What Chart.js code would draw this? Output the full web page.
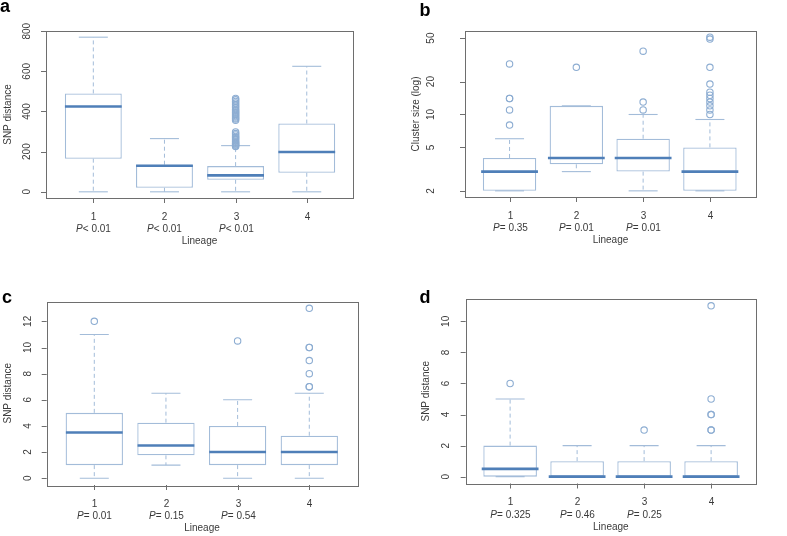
<!DOCTYPE html>
<html><head><meta charset="utf-8">
<script src="https://cdn.jsdelivr.net/npm/chart.js@4.4.0/dist/chart.umd.min.js"></script>
<style>
html,body{margin:0;padding:0;background:#fff;}
#wrap{position:relative;width:787px;height:536px;overflow:hidden;background:#fff;}
canvas{position:absolute;}
</style></head><body>
<div id="wrap">
<canvas id="ca" width="393" height="268" style="left:0px;top:0px;width:393px;height:268px"></canvas>
<canvas id="cb" width="394" height="268" style="left:393px;top:0px;width:394px;height:268px"></canvas>
<canvas id="cc" width="393" height="268" style="left:0px;top:268px;width:393px;height:268px"></canvas>
<canvas id="cd" width="394" height="268" style="left:393px;top:268px;width:394px;height:268px"></canvas>
</div>
<script>
// ---------- data ----------
const lineages = [1, 2, 3, 4];

// panel a : SNP distance
const aMin = [0, 0, 0, 0];
const aQ1  = [165, 20, 60, 95];
const aMed = [425, 130, 82, 198];
const aQ3  = [490, 135, 128, 340];
const aMax = [770, 265, 230, 625];
const aOut = [[], [], [226, 230, 234, 238, 242, 247, 252, 258, 264, 270, 276, 283, 290, 298,
                       356, 362, 368, 374, 380, 386, 392, 398, 404, 410, 418, 426, 434, 442, 450, 458, 465], []];
const aP = ['< 0.01', '< 0.01', '< 0.01', null];
const aTicks = [0, 200, 400, 600, 800];

// panel b : cluster size (log)
const bMin = [2, 3, 2, 2];
const bQ1  = [2, 3.5, 3, 2];
const bMed = [3, 4, 4, 3];
const bQ3  = [4, 12, 6, 5];
const bMax = [6, 12, 10, 9];
const bOut = [[8, 11, 14, 14, 29], [27], [11, 13, 38], [10, 11, 12, 13, 14, 15, 16, 19, 27, 49, 51]];
const bP = ['= 0.35', '= 0.01', '= 0.01', null];
const bTicks = [2, 5, 10, 20, 50];

// panel c : SNP distance
const cMin = [0, 1, 0, 0];
const cQ1  = [1, 1.75, 1, 1];
const cMed = [3.5, 2.5, 2, 2];
const cQ3  = [5, 4.25, 4, 3.25];
const cMax = [11, 6.5, 6, 6.5];
const cOut = [[12], [], [10.5], [7, 7, 8, 9, 10, 10, 13]];
const cP = ['= 0.01', '= 0.15', '= 0.54', null];
const cTicks = [0, 2, 4, 6, 8, 10, 12];

// panel d : SNP distance
const dMin = [0, 0, 0, 0];
const dQ1  = [0, 0, 0, 0];
const dMed = [0.5, 0, 0, 0];
const dQ3  = [2, 1, 1, 1];
const dMax = [5, 2, 2, 2];
const dOut = [[6], [], [3], [3, 3, 4, 4, 5, 11]];
const dP = ['= 0.325', '= 0.46', '= 0.25', null];
const dTicks = [0, 2, 4, 6, 8, 10];

// ---------- styles ----------
const BOX = '#a3bcd9';
const MED = '#4f7fb8';
const OUT = '#8dadd2';
const FRAME = '#6e6e6e';
const TXT = '#3a3a3a';
const FONT = '"Liberation Sans", Arial, sans-serif';

function boxDatasets(mn, q1, md, q3, mx, out) {
  const whisk = [];
  lineages.forEach((x, i) => {
    whisk.push({x, y: q3[i]}, {x, y: mx[i]}, {x, y: null});
    whisk.push({x, y: q1[i]}, {x, y: mn[i]}, {x, y: null});
  });
  const caps = [];
  lineages.forEach((x, i) => { caps.push({x, y: mn[i]}, {x, y: mx[i]}); });
  const outs = [];
  lineages.forEach((x, i) => { out[i].forEach(v => outs.push({x, y: v})); });
  return [
    {type: 'line', data: whisk, borderColor: BOX, borderWidth: 1, borderDash: [4, 3],
     pointRadius: 0, spanGaps: false, fill: false, order: 4},
    {type: 'bar', data: lineages.map((x, i) => ({x, y: [q1[i], q3[i]]})),
     backgroundColor: '#ffffff', borderColor: BOX, borderWidth: 1.3, borderSkipped: false,
     categoryPercentage: 0.8, barPercentage: 1, order: 3},
    {type: 'scatter', data: caps, pointStyle: 'line', pointRadius: 14.5, borderColor: BOX,
     borderWidth: 1.1, order: 2},
    {type: 'scatter', data: lineages.map((x, i) => ({x, y: md[i]})), pointStyle: 'line',
     pointRadius: 28.4, borderColor: MED, borderWidth: 2.6, order: 1},
    {type: 'scatter', data: outs, pointStyle: 'circle', pointRadius: 3.2,
     borderColor: OUT, backgroundColor: 'rgba(255,255,255,0)', borderWidth: 1.1, order: 0}
  ];
}

const rAxes = {
  id: 'rAxes',
  afterDraw(chart, args, o) {
    const ctx = chart.ctx, ca = chart.chartArea, xs = chart.scales.x, ys = chart.scales.y;
    ctx.save();
    ctx.strokeStyle = FRAME; ctx.lineWidth = 1;
    ctx.strokeRect(Math.round(ca.left) + 0.5, Math.round(ca.top) + 0.5,
                   Math.round(ca.right - ca.left), Math.round(ca.bottom - ca.top));
    ctx.fillStyle = TXT;
    ctx.font = '10px ' + FONT;
    // y ticks + rotated labels
    o.yTicks.forEach(v => {
      const y = Math.round(ys.getPixelForValue(v)) + 0.5;
      ctx.beginPath(); ctx.moveTo(ca.left - 5, y); ctx.lineTo(ca.left, y); ctx.stroke();
      ctx.save();
      ctx.translate(ca.left - o.yLabOff, ys.getPixelForValue(v));
      ctx.rotate(-Math.PI / 2);
      ctx.textAlign = 'center'; ctx.textBaseline = 'middle';
      ctx.fillText(String(v), 0, 0);
      ctx.restore();
    });
    // y title
    ctx.save();
    ctx.translate(ca.left - o.yTitleOff, (ca.top + ca.bottom) / 2);
    ctx.rotate(-Math.PI / 2);
    ctx.textAlign = 'center'; ctx.textBaseline = 'middle';
    ctx.fillText(o.yTitle, 0, 0);
    ctx.restore();
    // x ticks, labels, P values
    lineages.forEach((v, i) => {
      const x = Math.round(xs.getPixelForValue(v)) + 0.5;
      ctx.beginPath(); ctx.moveTo(x, ca.bottom); ctx.lineTo(x, ca.bottom + 5); ctx.stroke();
      ctx.textAlign = 'center'; ctx.textBaseline = 'middle';
      ctx.font = '10px ' + FONT;
      ctx.fillText(String(v), x, ca.bottom + 19);
      const p = o.pvals[i];
      if (p) {
        ctx.font = 'italic 10px ' + FONT;
        const w1 = ctx.measureText('P').width;
        ctx.font = '10px ' + FONT;
        const w2 = ctx.measureText(p).width;
        const x0 = x - (w1 + w2) / 2;
        ctx.textAlign = 'left';
        ctx.font = 'italic 10px ' + FONT;
        ctx.fillText('P', x0, ca.bottom + 31.5);
        ctx.font = '10px ' + FONT;
        ctx.fillText(p, x0 + w1, ca.bottom + 31.5);
      }
    });
    ctx.textAlign = 'center'; ctx.textBaseline = 'middle';
    ctx.font = '10px ' + FONT;
    ctx.fillText('Lineage', (ca.left + ca.right) / 2, ca.bottom + 43.5);
    // panel letter
    ctx.fillStyle = '#000';
    ctx.font = 'bold 18px ' + FONT;
    ctx.textAlign = 'center'; ctx.textBaseline = 'middle';
    ctx.fillText(o.letter, o.letterX, o.letterY);
    ctx.restore();
  }
};

function makePanel(id, stats, yType, yMin, yMax, xMin, xMax, pad, ax) {
  const yTicks = ax.yTicks;
  new Chart(document.getElementById(id), {
    type: 'bar',
    data: {datasets: boxDatasets.apply(null, stats)},
    options: {
      responsive: false, animation: false, devicePixelRatio: 1, events: [],
      layout: {padding: pad},
      plugins: {legend: {display: false}, tooltip: {enabled: false}, rAxes: ax},
      scales: {
        x: {type: 'linear', min: xMin, max: xMax, bounds: 'data', offset: false, display: false,
            grid: {offset: false},
            afterBuildTicks: s => { s.ticks = lineages.map(v => ({value: v})); }},
        y: {type: yType, min: yMin, max: yMax, bounds: 'data', display: false,
            afterBuildTicks: s => { s.ticks = yTicks.map(v => ({value: v})); }}
      }
    },
    plugins: [rAxes]
  });
}

makePanel('ca', [aMin, aQ1, aMed, aQ3, aMax, aOut], 'linear', -30.8, 800.8, 0.335, 4.65,
  {left: 46, top: 16.5, right: 40, bottom: 70},
  {yTicks: aTicks, pvals: aP, yTitle: 'SNP distance', yLabOff: 18.5, yTitleOff: 38,
   letter: 'a', letterX: 5, letterY: 7});

makePanel('cb', [bMin, bQ1, bMed, bQ3, bMax, bOut], 'logarithmic', 1.757, 58.1, 0.333, 4.69,
  {left: 72, top: 12.4, right: 6, bottom: 71},
  {yTicks: bTicks, pvals: bP, yTitle: 'Cluster size (log)', yLabOff: 34, yTitleOff: 49,
   letter: 'b', letterX: 32, letterY: 11});

makePanel('cc', [cMin, cQ1, cMed, cQ3, cMax, cOut], 'linear', -0.52, 13.52, 0.336, 4.67,
  {left: 46.7, top: 33.5, right: 35.7, bottom: 51},
  {yTicks: cTicks, pvals: cP, yTitle: 'SNP distance', yLabOff: 18.4, yTitleOff: 38.4,
   letter: 'c', letterX: 7, letterY: 30});

makePanel('cd', [dMin, dQ1, dMed, dQ3, dMax, dOut], 'linear', -0.44, 11.44, 0.337, 4.67,
  {left: 72.7, top: 29.6, right: 5.3, bottom: 52.5},
  {yTicks: dTicks, pvals: dP, yTitle: 'SNP distance', yLabOff: 19, yTitleOff: 39,
   letter: 'd', letterX: 32, letterY: 30});
</script>
</body></html>
